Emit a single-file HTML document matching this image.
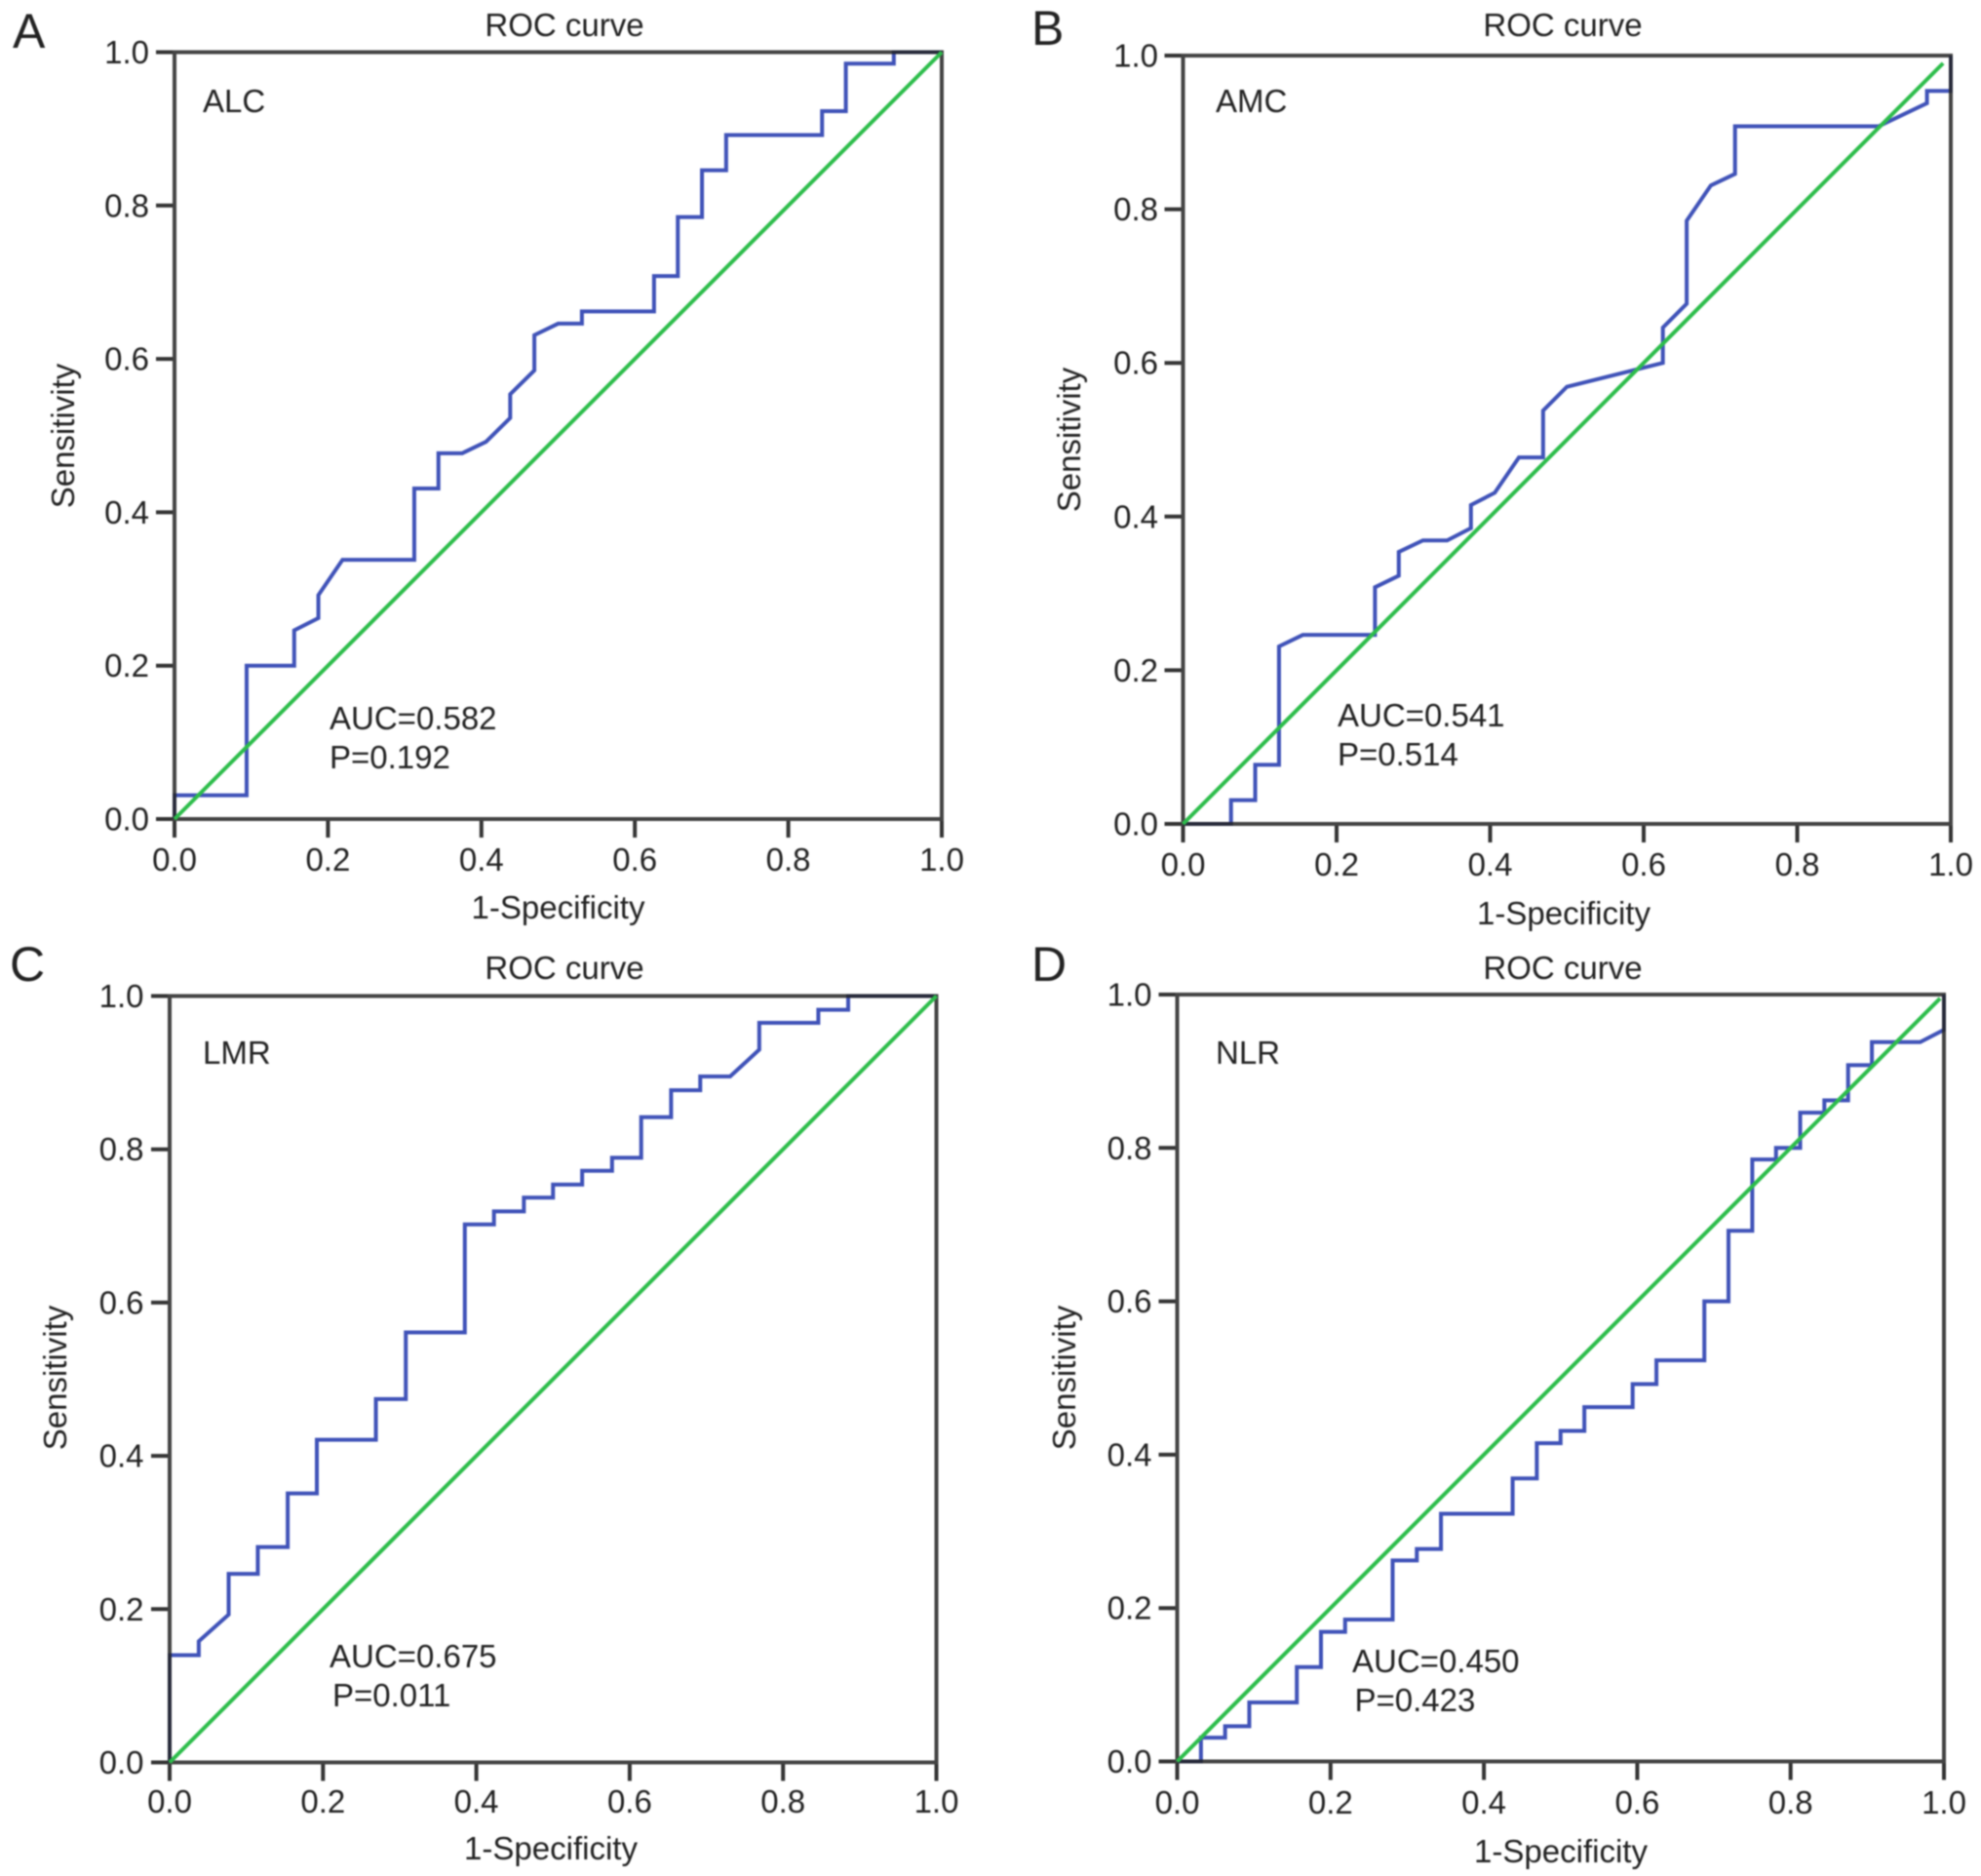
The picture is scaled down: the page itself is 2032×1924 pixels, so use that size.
<!DOCTYPE html>
<html lang="en">
<head>
<meta charset="utf-8">
<title>ROC curves</title>
<style>
html,body{margin:0;padding:0;background:#fff;}
svg{display:block;filter:blur(0.8px);}
text{font-family:"Liberation Sans",sans-serif;fill:#222;font-size:33px;}
</style>
</head>
<body>
<svg id="figure" xmlns="http://www.w3.org/2000/svg" width="2032" height="1924" viewBox="0 0 2032 1924"></svg>
<script>
var tickLabels = ["0.0", "0.2", "0.4", "0.6", "0.8", "1.0"];
var tickValues = [0, 0.2, 0.4, 0.6, 0.8, 1];
var referenceA = [0, 1];
var referenceB = [0, 0.99];
var referenceC = [0, 1];
var referenceD = [0, 0.995];

var alcX = [0,0,0.094,0.094,0.156,0.156,0.1875,0.1875,0.219,0.3125,0.3125,0.344,0.344,0.375,0.406,0.4375,0.4375,0.469,0.469,0.5,0.531,0.531,0.625,0.625,0.656,0.656,0.6875,0.6875,0.719,0.719,0.844,0.844,0.875,0.875,0.9375,0.9375,1];
var alcY = [0,0.031,0.031,0.2,0.2,0.246,0.262,0.292,0.338,0.338,0.431,0.431,0.477,0.477,0.492,0.523,0.554,0.585,0.631,0.646,0.646,0.662,0.662,0.708,0.708,0.785,0.785,0.846,0.846,0.892,0.892,0.923,0.923,0.985,0.985,1,1];

var amcX = [0,0.0625,0.0625,0.094,0.094,0.125,0.125,0.156,0.25,0.25,0.281,0.281,0.3125,0.344,0.375,0.375,0.406,0.4375,0.469,0.469,0.5,0.625,0.625,0.656,0.656,0.6875,0.719,0.719,0.906,0.969,0.969,1,1];
var amcY = [0,0,0.031,0.031,0.077,0.077,0.231,0.246,0.246,0.308,0.323,0.354,0.369,0.369,0.385,0.415,0.431,0.477,0.477,0.538,0.569,0.6,0.646,0.677,0.785,0.831,0.846,0.908,0.908,0.938,0.954,0.954,1];

var lmrX = [0,0,0.038,0.038,0.077,0.077,0.115,0.115,0.154,0.154,0.192,0.192,0.269,0.269,0.308,0.308,0.385,0.385,0.423,0.423,0.462,0.462,0.5,0.5,0.538,0.538,0.577,0.577,0.615,0.615,0.654,0.654,0.692,0.692,0.731,0.769,0.769,0.846,0.846,0.885,0.885,1];
var lmrY = [0,0.14,0.14,0.158,0.193,0.246,0.246,0.281,0.281,0.351,0.351,0.421,0.421,0.474,0.474,0.561,0.561,0.702,0.702,0.719,0.719,0.737,0.737,0.754,0.754,0.772,0.772,0.789,0.789,0.842,0.842,0.877,0.877,0.895,0.895,0.93,0.965,0.965,0.982,0.982,1,1];

var nlrX = [0,0.031,0.031,0.0625,0.0625,0.094,0.094,0.156,0.156,0.1875,0.1875,0.219,0.219,0.281,0.281,0.3125,0.3125,0.344,0.344,0.4375,0.4375,0.469,0.469,0.5,0.5,0.531,0.531,0.594,0.594,0.625,0.625,0.6875,0.6875,0.719,0.719,0.75,0.75,0.781,0.781,0.8125,0.8125,0.844,0.844,0.875,0.875,0.906,0.906,0.969,1,1];
var nlrY = [0,0,0.031,0.031,0.046,0.046,0.077,0.077,0.123,0.123,0.169,0.169,0.185,0.185,0.262,0.262,0.277,0.277,0.323,0.323,0.369,0.369,0.415,0.415,0.431,0.431,0.462,0.462,0.492,0.492,0.523,0.523,0.6,0.6,0.692,0.692,0.785,0.785,0.8,0.8,0.846,0.846,0.862,0.862,0.908,0.908,0.938,0.938,0.954,1];

var panels = [
  {id:"a", letter:"A", marker:"ALC", auc:"AUC=0.582", p:"P=0.192", xs:alcX, ys:alcY, ref:referenceA,
   left:179, right:966, top:53.5, bottom:840, yGap:26, xGap:53,
   letterX:13, letterY:49, titleX:579, titleY:37, xTitleX:572.5, xTitleY:942, yTitleX:76, yTitleY:447,
   markerX:208, markerY:115, aucX:338, aucY:748, pX:338, pY:788},
  {id:"b", letter:"B", marker:"AMC", auc:"AUC=0.541", p:"P=0.514", xs:amcX, ys:amcY, ref:referenceB,
   left:1213.5, right:2001, top:57, bottom:845, yGap:25.5, xGap:53,
   letterX:1058, letterY:46, titleX:1603, titleY:37, xTitleX:1604, xTitleY:948, yTitleX:1108, yTitleY:451,
   markerX:1247, markerY:115, aucX:1372, aucY:745, pX:1372, pY:785},
  {id:"c", letter:"C", marker:"LMR", auc:"AUC=0.675", p:"P=0.011", xs:lmrX, ys:lmrY, ref:referenceC,
   left:174, right:960.5, top:1021.5, bottom:1807.5, yGap:26.5, xGap:51.5,
   letterX:10, letterY:1006, titleX:579, titleY:1004, xTitleX:565, xTitleY:1907, yTitleX:68, yTitleY:1413,
   markerX:208, markerY:1091, aucX:338, aucY:1710, pX:341, pY:1750},
  {id:"d", letter:"D", marker:"NLR", auc:"AUC=0.450", p:"P=0.423", xs:nlrX, ys:nlrY, ref:referenceD,
   left:1207.5, right:1994, top:1020, bottom:1806.5, yGap:26, xGap:53.5,
   letterX:1058, letterY:1006, titleX:1603, titleY:1004, xTitleX:1601, xTitleY:1910, yTitleX:1103, yTitleY:1413,
   markerX:1247, markerY:1091, aucX:1387, aucY:1715, pX:1389.5, pY:1755}
];

var NS = "http://www.w3.org/2000/svg";
var root = document.getElementById("figure");
var AXIS = "#333333", FRAME = "#222222", BLUE = "#3f52b8", GREEN = "#2dbd4b";

function make(tag, parent, attrs) {
  var el = document.createElementNS(NS, tag);
  for (var k in attrs) { el.setAttribute(k, attrs[k]); }
  parent.appendChild(el);
  return el;
}
function label(parent, str, x, y, anchor, size) {
  var t = make("text", parent, {x: x, y: y, "text-anchor": anchor || "start"});
  if (size) { t.style.fontSize = size + "px"; }
  t.textContent = str;
  return t;
}

panels.forEach(function (p) {
  var sx = function (v) { return p.left + v * (p.right - p.left); };
  var sy = function (v) { return p.bottom - v * (p.bottom - p.top); };

  var g = make("g", root, {});
  
  

  var pts = p.xs.map(function (x, i) { return sx(x) + "," + sy(p.ys[i]); }).join(" ");
  var curve = make("polyline", g, {points: pts, fill: "none", stroke: BLUE, "stroke-width": 4, "stroke-linejoin": "miter"});
  
  

  var frame = make("rect", g, {x: p.left, y: p.top, width: p.right - p.left, height: p.bottom - p.top, fill: "none", stroke: FRAME, "stroke-opacity": 0.85, "stroke-width": 4});
  
  

  tickValues.forEach(function (v, i) {
    var xt = make("line", g, {x1: sx(v), x2: sx(v), y1: p.bottom + 2, y2: p.bottom + 19, stroke: AXIS, "stroke-width": 4});
    
    
    var yt = make("line", g, {x1: p.left - 19, x2: p.left - 2, y1: sy(v), y2: sy(v), stroke: AXIS, "stroke-width": 4});
    
    
    var xl = label(g, tickLabels[i], sx(v), p.bottom + p.xGap, "middle");
    
    
    var yl = label(g, tickLabels[i], p.left - p.yGap, sy(v) + 11.5, "end");
    
    
  });

  var refPts = p.ref.map(function (v) { return sx(v) + "," + sy(v); }).join(" ");
  var refLine = make("polyline", g, {points: refPts, fill: "none", stroke: GREEN, "stroke-width": 4});
  
  

  var letter = label(g, p.letter, p.letterX, p.letterY, "start", 50);
  
  

  var title = label(g, "ROC curve", p.titleX, p.titleY, "middle");
  
  

  var xTitle = label(g, "1-Specificity", p.xTitleX, p.xTitleY, "middle");
  
  

  var yTitle = label(g, "Sensitivity", 0, 0, "middle");
  yTitle.setAttribute("transform", "translate(" + p.yTitleX + "," + p.yTitleY + ") rotate(-90)");
  
  

  var marker = label(g, p.marker, p.markerX, p.markerY);
  
  

  var auc = label(g, p.auc, p.aucX, p.aucY);
  
  

  var pv = label(g, p.p, p.pX, p.pY);
  
  
});
</script>
</body>
</html>
